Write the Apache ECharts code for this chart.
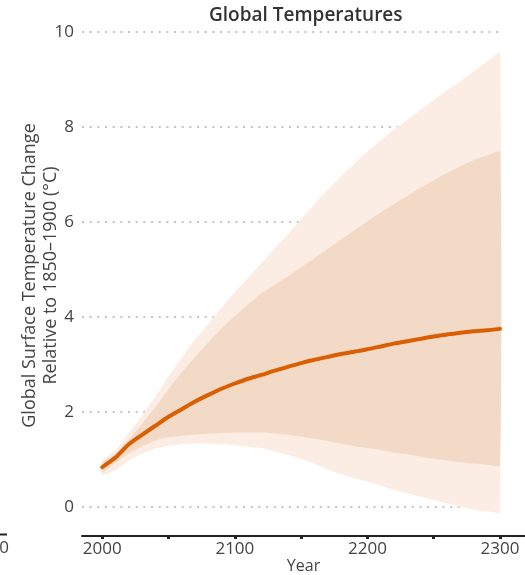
<!DOCTYPE html>
<html><head><meta charset="utf-8">
<script src="https://cdn.jsdelivr.net/npm/echarts@6/dist/echarts.min.js"></script>
<style>html,body{margin:0;padding:0;background:#fff}#c{width:525px;height:575px}</style>
</head><body><div id="c"></div>
<script>
const years = [2000,2010,2020,2030,2040,2050,2060,2070,2080,2090,2100,2110,2120,2130,2140,2150,2160,2170,2180,2190,2200,2210,2220,2230,2240,2250,2260,2270,2280,2290,2300];
const median = [0.84,1.04,1.32,1.52,1.71,1.90,2.06,2.22,2.36,2.49,2.60,2.70,2.78,2.87,2.95,3.03,3.10,3.16,3.22,3.27,3.32,3.38,3.44,3.49,3.54,3.59,3.63,3.67,3.70,3.72,3.75];
const lightHigh = [0.98,1.20,1.55,1.92,2.32,2.76,3.15,3.52,3.86,4.20,4.52,4.83,5.13,5.44,5.75,6.06,6.37,6.68,6.96,7.22,7.48,7.72,7.95,8.15,8.36,8.57,8.77,8.96,9.17,9.37,9.56];
const darkHigh = [0.92,1.12,1.42,1.75,2.10,2.48,2.84,3.16,3.47,3.76,4.02,4.27,4.50,4.68,4.86,5.05,5.24,5.43,5.63,5.82,6.01,6.20,6.38,6.55,6.72,6.88,7.03,7.17,7.30,7.40,7.48];
const darkLow = [0.74,0.93,1.13,1.28,1.40,1.47,1.50,1.52,1.54,1.56,1.57,1.57,1.57,1.55,1.52,1.48,1.44,1.39,1.33,1.28,1.24,1.20,1.15,1.11,1.06,1.02,0.98,0.94,0.91,0.89,0.87];
const lightLow = [0.67,0.78,0.97,1.12,1.23,1.29,1.32,1.34,1.33,1.32,1.30,1.27,1.24,1.17,1.10,1.01,0.91,0.79,0.69,0.61,0.53,0.45,0.36,0.29,0.22,0.15,0.08,0.00,-0.05,-0.09,-0.11];
const xTickValues = [2000,2050,2100,2150,2200,2250,2300];
const xLabelValues = [2000,2100,2200,2300];

const FONT = 'Open Sans';
const pairs = (arr) => years.map((y, i) => [y, arr[i]]);

function bandSeries(name, low, high, color, z) {
  return {
    type:'custom', name, xAxisIndex:0, yAxisIndex:0, z, silent:true, clip:false,
    data: years.map((y, i) => [y, low[i], high[i]]),
    encode:{x:0, y:[1,2]},
    renderItem(params, api) {
      if (params.dataIndex !== 0) return null;
      const pts = [];
      for (let i = 0; i < years.length; i++) pts.push(api.coord([years[i], high[i]]));
      for (let i = years.length - 1; i >= 0; i--) pts.push(api.coord([years[i], low[i]]));
      return {type:'polygon', shape:{points:pts, smooth:0.15}, style:{fill:color, stroke:null}};
    }
  };
}

const chart = echarts.init(document.getElementById('c'), null, {renderer:'canvas'});
chart.setOption({
  animation:false,
  backgroundColor:'#fff',
  title:{text:'Global Temperatures', left:204, top:1,
    textStyle:{fontFamily:FONT, fontSize:19, fontWeight:600, color:'#333'}},
  grid:[
    {left:82, top:32, width:418, height:475, outerBoundsMode:'none', containLabel:false},
    {left:82, right:0, top:500, height:36, outerBoundsMode:'none', containLabel:false}
  ],
  xAxis:[
    {gridIndex:0, type:'value', min:1984.7, max:2300, show:false},
    {gridIndex:1, type:'value', min:1984.7, max:2318.87, position:'bottom',
      axisLine:{show:true, lineStyle:{color:'#222', width:2}},
      axisTick:{show:true, customValues:xTickValues, length:3, lineStyle:{color:'#222', width:3}},
      axisLabel:{customValues:xLabelValues, formatter:(v) => String(v), fontFamily:FONT, fontSize:17, color:'#444', margin:5},
      splitLine:{show:false},
      name:'Year', nameLocation:'middle', nameGap:22, nameMoveOverlap:false,
      nameTextStyle:{fontFamily:FONT, fontSize:16, color:'#444', verticalAlign:'top'}}
  ],
  yAxis:[
    {gridIndex:0, type:'value', min:0, max:10, interval:2,
      axisLine:{show:false}, axisTick:{show:false},
      axisLabel:{fontFamily:FONT, fontSize:17, color:'#444', margin:8},
      splitLine:{show:true, lineStyle:{color:'#c4c4c4', width:2, type:[2,5.67]}},
      name:'Global Surface Temperature Change\nRelative to 1850–1900 (°C)',
      nameLocation:'middle', nameGap:21, nameMoveOverlap:false,
      nameTextStyle:{fontFamily:FONT, fontSize:18, color:'#444', lineHeight:21, align:'center', padding:[0,12,0,0]}},
    {gridIndex:1, type:'value', show:false}
  ],
  series:[
    bandSeries('likely-range-95', lightLow, lightHigh, '#FBECE4', 1),
    bandSeries('likely-range-83', darkLow, darkHigh, '#F3DAC6', 2),
    {type:'line', name:'median', xAxisIndex:0, yAxisIndex:0, data:pairs(median), symbol:'none',
      smooth:0.2, clip:false, z:5, lineStyle:{color:'#D95F02', width:4, cap:'round'}}
  ],
  graphic:[
    {type:'line', shape:{x1:0, y1:534.5, x2:7, y2:534.5}, style:{stroke:'#222', lineWidth:2}},
    {type:'text', x:9, y:548, style:{text:'2300', font:'17px "Open Sans"', fill:'#444', align:'right', verticalAlign:'middle'}}
  ]
});
</script></body></html>
